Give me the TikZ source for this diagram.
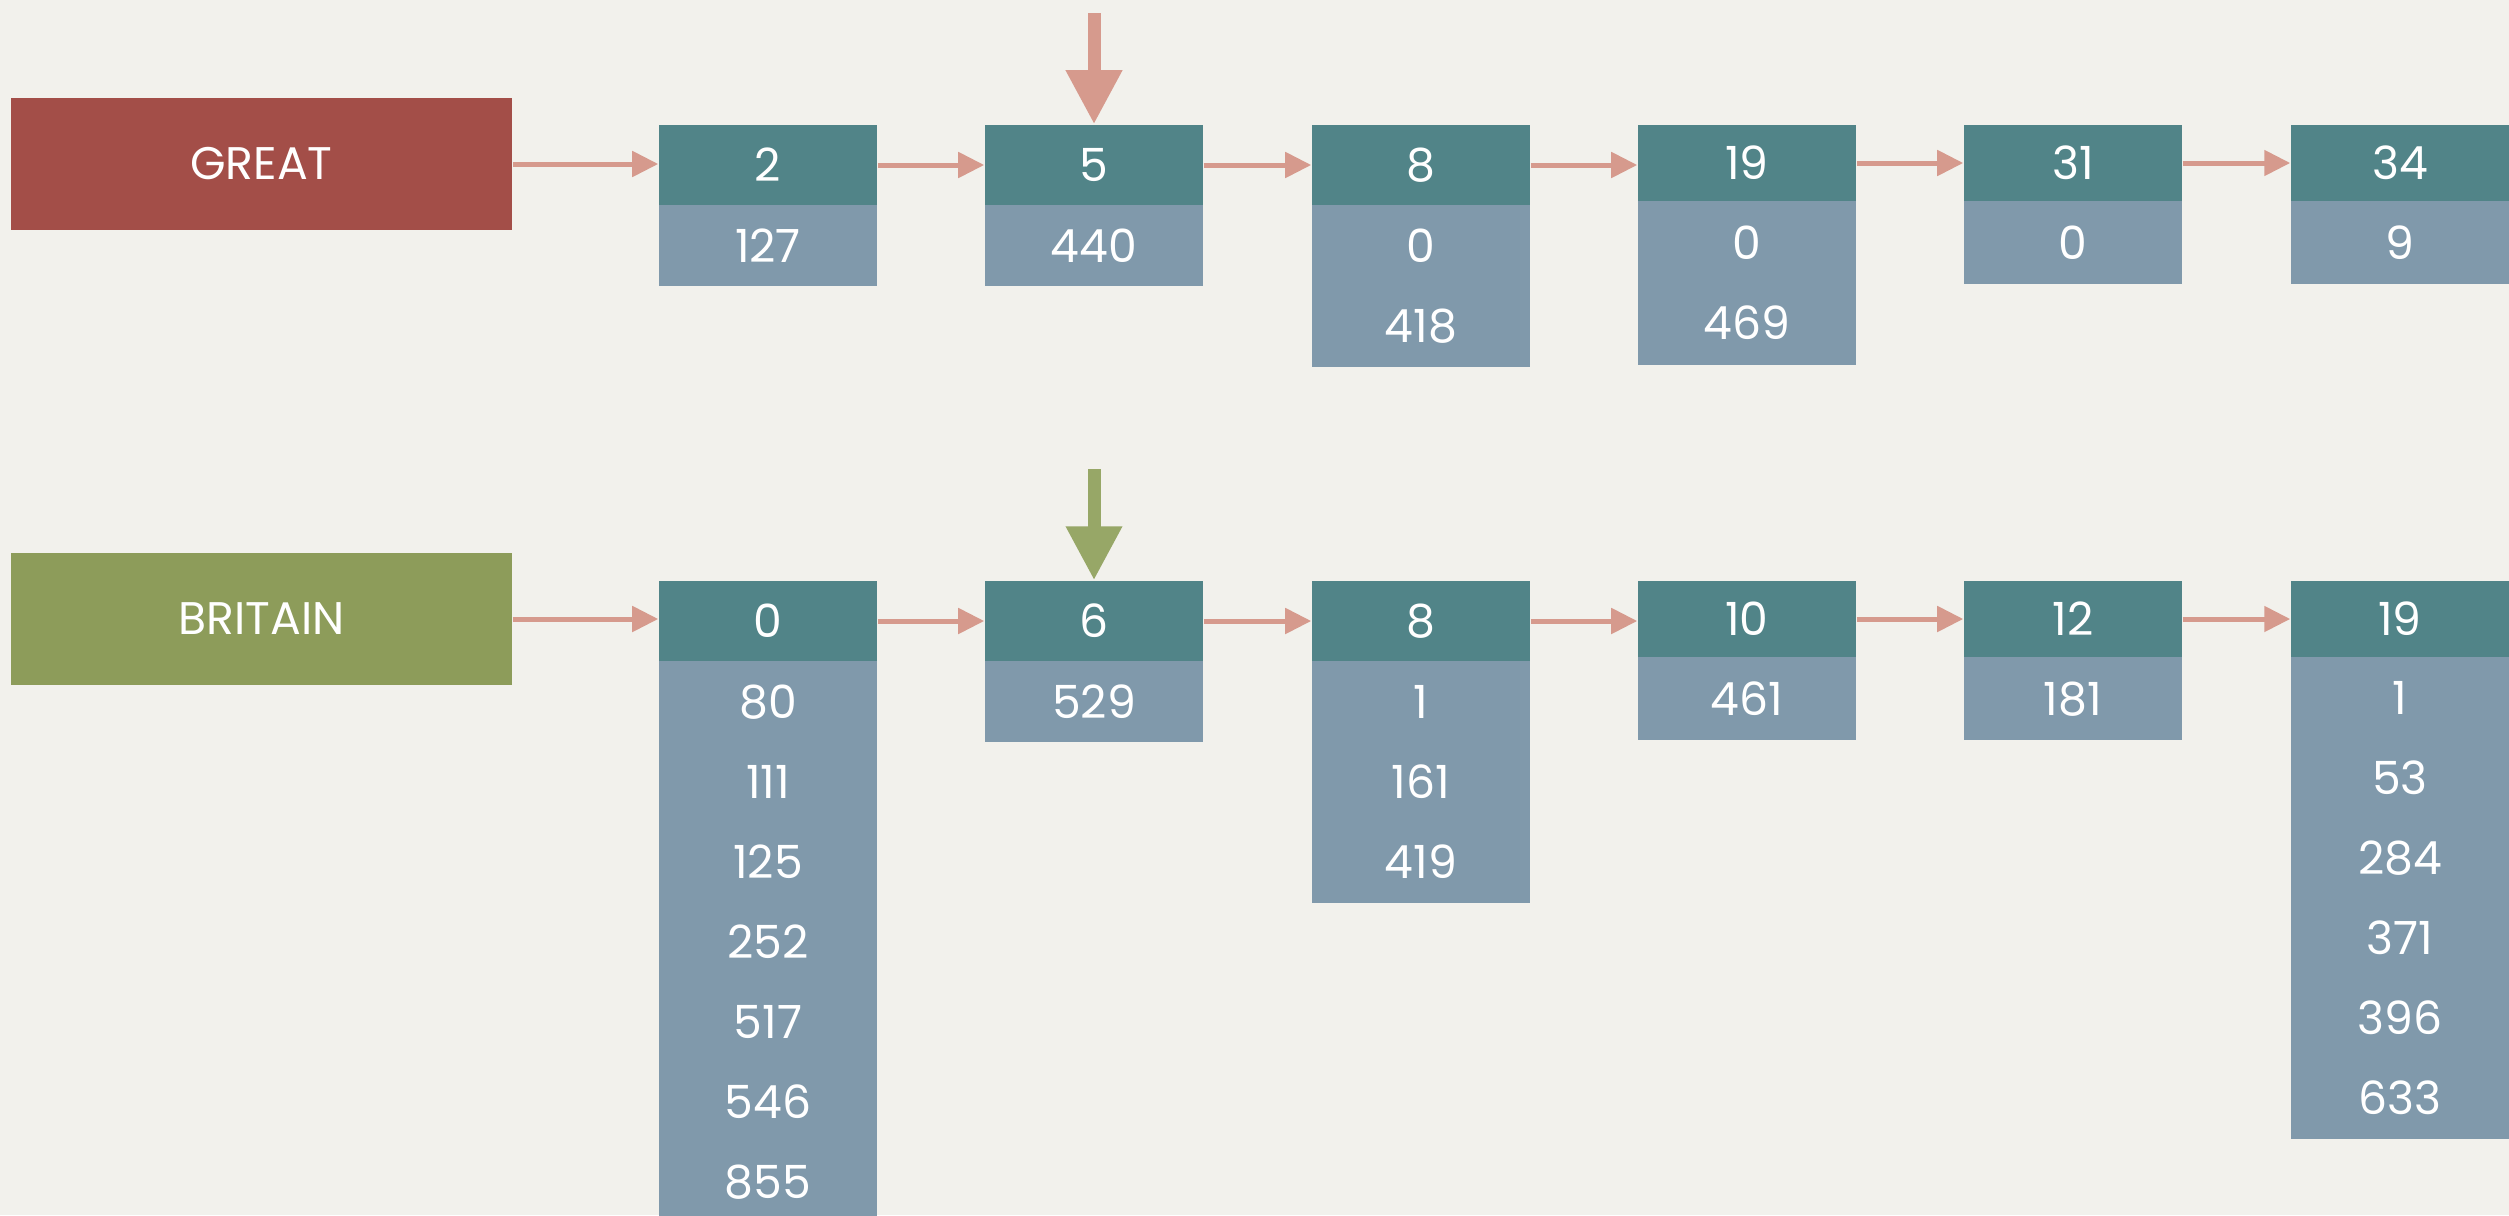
\documentclass[tikz,border=0pt]{standalone}
\usepackage{fontspec}
\setmainfont{Poppins}
\usetikzlibrary{arrows.meta}
\definecolor{bgc}{HTML}{F2F1EC}
\definecolor{redbox}{HTML}{A34E48}
\definecolor{greenbox}{HTML}{8D9C5A}
\definecolor{hdrc}{HTML}{518488}
\definecolor{bodyc}{HTML}{8099AB}
\definecolor{salmon}{HTML}{D69A8D}
\definecolor{olivearr}{HTML}{97A767}
\begin{document}
\begin{tikzpicture}[x=0.01cm,y=-0.01cm,
  lbl/.style={font=\fontsize{13}{22.76}\selectfont, text=white},
  term/.style={rectangle, inner sep=0pt, minimum width=5.01cm, minimum height=1.32cm, lbl},
  hdr/.style={rectangle, inner sep=0pt, fill=hdrc, minimum width=2.18cm, minimum height=#1, lbl},
  postings/.style={rectangle, inner sep=0pt, fill=bodyc, minimum width=2.18cm, minimum height=#1, anchor=north, align=center, yshift=0.015cm, lbl},
  conn/.style={draw=salmon, line width=0.05cm, -{Triangle[length=0.26cm,width=0.25cm]}},
  bigarrow/.style={line width=0.13cm, -{Triangle[length=0.54cm,width=0.53cm]}}
]
\fill[bgc] (0,0) rectangle (2509,1215);
\useasboundingbox (0,0) rectangle (2509,1215);
\clip (0,0) rectangle (2509,1215);

% ---- GREAT row
\node[term, fill=redbox] (great) at (261.5,164) {GREAT};
\node[hdr=0.80cm] (g1) at (768,165) {2};
\node[hdr=0.80cm] (g2) at (1094,165) {5};
\node[hdr=0.80cm] (g3) at (1421,165) {8};
\node[hdr=0.76cm] (g4) at (1747,163) {19};
\node[hdr=0.76cm] (g5) at (2073,163) {31};
\node[hdr=0.76cm] (g6) at (2400,163) {34};
\node[postings=0.815cm] (gp1) at (g1.south) {127};
\node[postings=0.815cm] (gp2) at (g2.south) {440};
\node[postings=1.615cm] (gp3) at (g3.south) {0\\418};
\node[postings=1.635cm] (gp4) at (g4.south) {0\\469};
\node[postings=0.835cm] (gp5) at (g5.south) {0};
\node[postings=0.835cm] (gp6) at (g6.south) {9};

\draw[conn] (great.east) -- (great.east -| g1.west);
\draw[conn] (g1.east) -- (g1.east -| g2.west);
\draw[conn] (g2.east) -- (g2.east -| g3.west);
\draw[conn] (g3.east) -- (g3.east -| g4.west);
\draw[conn] (g4.east) -- (g4.east -| g5.west);
\draw[conn] (g5.east) -- (g5.east -| g6.west);

\coordinate (gptr) at (1094,13);
\draw[bigarrow, salmon] (gptr) -- (g2.north);

% ---- BRITAIN row
\node[term, fill=greenbox] (britain) at (261.5,619) {BRITAIN};
\node[hdr=0.80cm] (b1) at (768,621) {0};
\node[hdr=0.80cm] (b2) at (1094,621) {6};
\node[hdr=0.80cm] (b3) at (1421,621) {8};
\node[hdr=0.76cm] (b4) at (1747,619) {10};
\node[hdr=0.76cm] (b5) at (2073,619) {12};
\node[hdr=0.76cm] (b6) at (2400,619) {19};
\node[postings=5.615cm] (bp1) at (b1.south) {80\\111\\125\\252\\517\\546\\855};
\node[postings=0.815cm] (bp2) at (b2.south) {529};
\node[postings=2.415cm] (bp3) at (b3.south) {1\\161\\419};
\node[postings=0.835cm] (bp4) at (b4.south) {461};
\node[postings=0.835cm] (bp5) at (b5.south) {181};
\node[postings=4.815cm] (bp6) at (b6.south) {1\\53\\284\\371\\396\\633};

\draw[conn] (britain.east) -- (britain.east -| b1.west);
\draw[conn] (b1.east) -- (b1.east -| b2.west);
\draw[conn] (b2.east) -- (b2.east -| b3.west);
\draw[conn] (b3.east) -- (b3.east -| b4.west);
\draw[conn] (b4.east) -- (b4.east -| b5.west);
\draw[conn] (b5.east) -- (b5.east -| b6.west);

\coordinate (bptr) at (1094,469);
\draw[bigarrow, olivearr] (bptr) -- (b2.north);
\end{tikzpicture}
\end{document}
